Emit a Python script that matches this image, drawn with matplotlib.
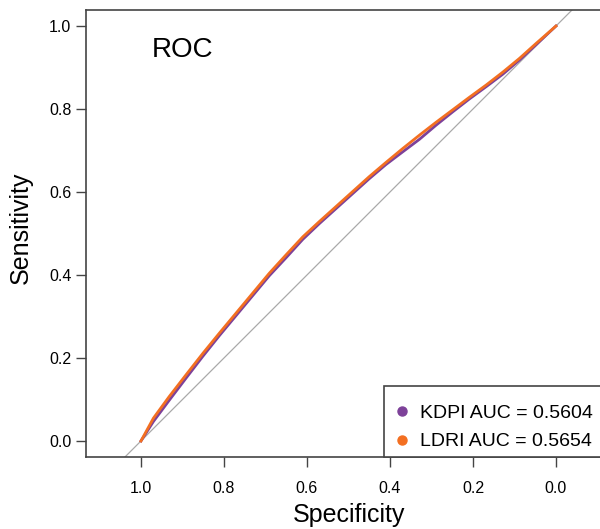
import matplotlib
matplotlib.use('Agg')
import matplotlib.pyplot as plt
from matplotlib.lines import Line2D
from matplotlib.patches import Rectangle

plt.rcParams['font.family'] = ['Liberation Sans', 'DejaVu Sans']

# ROC points (specificity, sensitivity)
spec = [1.0, 0.97, 0.932, 0.891, 0.851, 0.811, 0.771, 0.731, 0.691, 0.65,
        0.610, 0.57, 0.530, 0.49, 0.450, 0.41, 0.369, 0.329, 0.289, 0.249,
        0.209, 0.168, 0.128, 0.088, 0.048, 0.0]
ldri_sens = [0.0, 0.055, 0.107, 0.160, 0.211, 0.260, 0.308, 0.356, 0.404, 0.449,
             0.492, 0.529, 0.565, 0.601, 0.637, 0.671, 0.705, 0.737, 0.768, 0.798,
             0.828, 0.858, 0.889, 0.922, 0.958, 1.0]
kdpi_sens = [0.0, 0.047, 0.098, 0.152, 0.204, 0.254, 0.302, 0.350, 0.398, 0.442,
             0.486, 0.524, 0.560, 0.596, 0.632, 0.666, 0.697, 0.727, 0.761, 0.793,
             0.824, 0.854, 0.884, 0.918, 0.955, 1.0]

labels = ['KDPI AUC = 0.5604', 'LDRI AUC = 0.5654']
colors = ['#7D4199', '#F36F21']
ticks = [1.0, 0.8, 0.6, 0.4, 0.2, 0.0]

fig = plt.figure(figsize=(6.0, 5.29), dpi=100)
ax = fig.add_axes([0.1433, 0.1361, 0.8667, 0.845])

ax.set_xlim(1.1325, -0.1205)
ax.set_ylim(-0.0386, 1.0386)

# chance diagonal
ax.axline((1.0, 0.0), (0.0, 1.0), color='#AAAAAA', lw=0.9, zorder=1)

ax.plot(spec, kdpi_sens, color=colors[0], lw=2.0, zorder=2)
ax.plot(spec, ldri_sens, color=colors[1], lw=2.0, zorder=3)

ax.set_xticks(ticks)
ax.set_yticks(ticks)
ax.set_xticklabels([f'{t:.1f}' for t in ticks])
ax.set_yticklabels([f'{t:.1f}' for t in ticks])
ax.tick_params(axis='x', length=7, width=1.0, color='#444444', pad=10, labelsize=11.5)
ax.tick_params(axis='y', length=7, width=1.0, color='#444444', pad=3.5, labelsize=11.5)

for s in ax.spines.values():
    s.set_linewidth(1.2)
    s.set_color('#444444')

ax.set_xlabel('Specificity', fontsize=18)
ax.set_ylabel('Sensitivity', fontsize=18)
ax.xaxis.set_label_coords(0.506, -0.103)
ax.yaxis.set_label_coords(-0.102, 0.512)

ax.text(0.127, 0.911, 'ROC', transform=ax.transAxes, fontsize=20, va='center', ha='left')

# legend box sits on the bottom axis line, runs off the right edge
box = Rectangle((0.573, 0.0), 0.5, 0.159, transform=ax.transAxes, facecolor='white',
                edgecolor='#444444', lw=1.2, zorder=4, clip_on=False)
ax.add_patch(box)
handles = [Line2D([], [], ls='none', marker='o', markersize=6.5, color=c) for c in colors]
leg = ax.legend(handles, labels, loc='center left', bbox_to_anchor=(0.585, 0.066),
                borderaxespad=0, fontsize=14, frameon=False, borderpad=0,
                labelspacing=0.55, handletextpad=0.35, handlelength=1.2)
leg.set_zorder(5)

fig.savefig('out.png', dpi=100)
